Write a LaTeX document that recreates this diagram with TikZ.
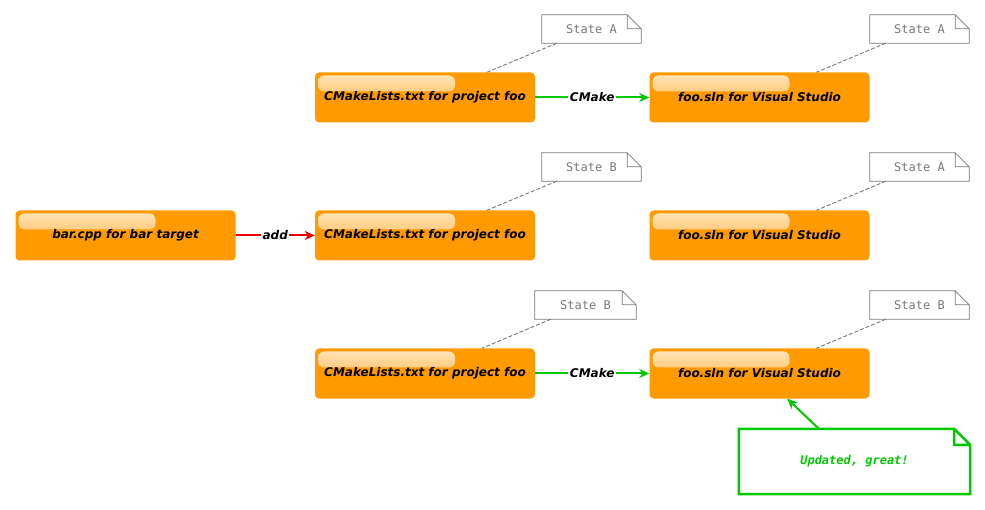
\documentclass[tikz,border=0pt]{standalone}
\usepackage{fontspec}
\setmainfont{DejaVu Sans}
\newfontfamily\notefont{DejaVu Sans Mono}
\usetikzlibrary{arrows.meta}

\definecolor{boxorange}{RGB}{255,154,0}
\definecolor{linkgreen}{RGB}{0,200,0}
\definecolor{linkred}{RGB}{235,0,0}
\definecolor{notegray}{RGB}{120,120,120}

\tikzset{
  target/.style={rounded corners=4pt, fill=boxorange, inner sep=0pt,
    minimum width=220pt, minimum height=50pt,
    font=\bfseries\itshape\fontsize{12}{14}\selectfont,
    path picture={
      \shade[gloss] ([xshift=3pt,yshift=-3pt]path picture bounding box.north west)
        rectangle ([xshift=140pt,yshift=-19pt]path picture bounding box.north west);
    }},
  gloss/.style={top color=white!75!boxorange, bottom color=boxorange!90!white,
    rounded corners=6pt},
  statenote/.style={inner sep=0pt, minimum width=99pt, minimum height=28pt,
    font=\notefont\fontsize{12}{14}\selectfont, text=notegray},
  donenote/.style={inner sep=0pt, minimum width=231pt, minimum height=65pt,
    font=\notefont\bfseries\itshape\fontsize{12}{14}\selectfont, text=linkgreen},
  notelink/.style={notegray, line width=0.9pt, dash pattern=on 4pt off 2pt},
  build/.style={linkgreen, line width=2pt,
    -{Stealth[length=10pt,width=9pt,inset=3pt]}},
  addlink/.style={build, linkred},
  edgetext/.style={fill=white, inner sep=1.5pt, text=black,
    font=\bfseries\itshape\fontsize{12}{14}\selectfont}
}

\begin{document}
\begin{tikzpicture}[x=1pt, y=-1pt]
\useasboundingbox (0,0) rectangle (985,510);

% targets
\node[target] (cma) at (425,97.5) {CMakeLists.txt for project foo};
\node[target] (slna) at (759.5,97.5) {foo.sln for Visual Studio};
\node[target] (bar) at (125.5,235.5) {bar.cpp for bar target};
\node[target] (cmb) at (425,235.5) {CMakeLists.txt for project foo};
\node[target] (slnb) at (759.5,235.5) {foo.sln for Visual Studio};
\node[target] (cmc) at (425,373.5) {CMakeLists.txt for project foo};
\node[target] (slnc) at (759.5,373.5) {foo.sln for Visual Studio};

% notes
\node[statenote] (na1) at (591.5,29) {State A};
\node[statenote] (na2) at (919.5,29) {State A};
\node[statenote] (nb1) at (591.5,167) {State B};
\node[statenote] (nb2) at (919.5,167) {State A};
\node[statenote, minimum width=101pt] (nc1) at (585.5,305) {State B};
\node[statenote] (nc2) at (919.5,305) {State B};
\node[donenote] (done) at (854.5,461.5) {Updated, great!};

\foreach \n in {na1,na2,nb1,nb2,nc1,nc2}
  \draw[notegray, line width=0.8pt] (\n.north west) -- ([xshift=-14pt]\n.north east)
    -- ([yshift=-14pt]\n.north east) -- (\n.south east) -- (\n.south west) -- cycle
    ([xshift=-14pt]\n.north east) |- ([yshift=-14pt]\n.north east);
\draw[linkgreen, line width=2.5pt] (done.north west) -- ([xshift=-16pt]done.north east)
  -- ([yshift=-16pt]done.north east) -- (done.south east) -- (done.south west) -- cycle
  ([xshift=-16pt]done.north east) |- ([yshift=-16pt]done.north east);

\foreach \n/\t/\a/\b in {na1/cma/15/172, na2/slna/16/167, nb1/cmb/15/172,
    nb2/slnb/16/167, nc1/cmc/16/167, nc2/slnc/16/167}
  \draw[notelink] ([xshift=\a pt]\n.south west) -- ([xshift=\b pt]\t.north west);

% links
\draw[build] (cma) -- node[edgetext] {CMake} (slna);
\draw[addlink] (bar) -- node[edgetext] {add} (cmb);
\draw[build] (cmc) -- node[edgetext] {CMake} (slnc);
\draw[build] ([xshift=80pt]done.north west) -- ([xshift=138pt]slnc.south west);
\end{tikzpicture}
\end{document}
